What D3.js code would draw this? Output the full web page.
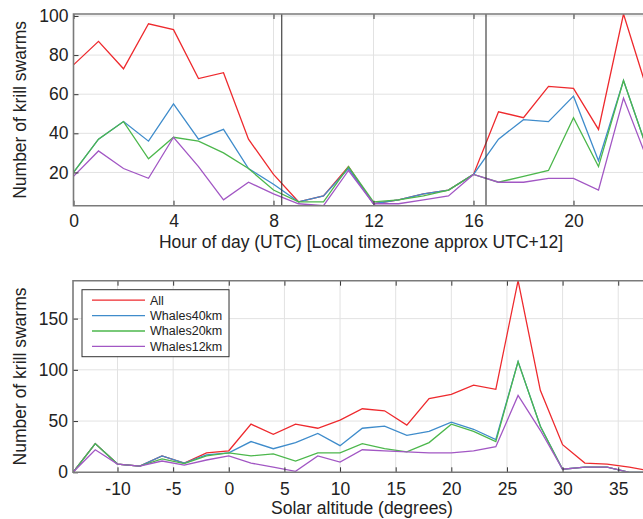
<!DOCTYPE html>
<html>
<head>
<meta charset="utf-8">
<script src="https://cdn.jsdelivr.net/npm/d3@7"></script>
<style>
    body { margin: 0; background: #fff; }
    svg { display: block; font-family: "Liberation Sans", Arial, sans-serif; }
    .grid line { stroke: #e2e2e2; stroke-width: 1; }
    .axis text { font-size: 17.5px; fill: #222; }
    .axis line { stroke: #333; }
    .axis path { display: none; }
    .frame { stroke: #7a7a7a; stroke-width: 1.6; fill: none; }
    .axis-text { font-size: 17.5px; fill: #222; }
    .legend text { font-size: 12.5px; fill: #222; }
</style>
</head>
<body>
<div id="chart-area"></div>
<script>

// Series names and colours
let seriesNames = ["All", "Whales40km", "Whales20km", "Whales12km"];
let seriesColors = ["#ee2a2e", "#3f8ccb", "#4cb74c", "#a257c4"];

// Hour of day (UTC)
let hours = [0, 1, 2, 3, 4, 5, 6, 7, 8, 9, 10, 11, 12, 13, 14, 15, 16, 17, 18, 19, 20, 21, 22, 23];
let hourAll = [75, 87, 73, 96, 93, 68, 71, 37, 19, 5, 8, 23, 4, 6, 9, 11, 19, 51, 48, 64, 63, 42, 101, 60];
let hourW40 = [20, 37, 46, 36, 55, 37, 42, 22, 14, 5, 8, 22, 4, 6, 9, 11, 19, 37, 47, 46, 59, 26, 67, 30];
let hourW20 = [20, 37, 46, 27, 38, 36, 30, 22, 11, 5, 5, 23, 5, 6, 8, 11, 19, 15, 18, 21, 48, 23, 67, 30];
let hourW12 = [18, 31, 22, 17, 38, 23, 6, 15, 9, 4, 3, 21, 4, 4, 6, 8, 19, 15, 15, 17, 17, 11, 58, 25];
let hourTicks = [0, 4, 8, 12, 16, 20];
let hourYTicks = [20, 40, 60, 80, 100];
let sunMarkers = [8.33, 16.5];

// Solar altitude (degrees)
let altitude = [-14, -12, -10, -8, -6, -4, -2, 0, 2, 4, 6, 8, 10, 12, 14, 16, 18, 20, 22, 24, 26, 28, 30, 32, 34, 36, 38];
let altAll = [0, 28, 8, 6, 16, 9, 19, 21, 47, 37, 47, 43, 51, 62, 60, 46, 72, 76, 85, 81, 187, 80, 27, 9, 8, 5, 1];
let altW40 = [0, 28, 8, 6, 16, 9, 17, 19, 30, 23, 29, 38, 26, 43, 45, 36, 40, 49, 42, 32, 108, 45, 3, 5, 5, 0, 0];
let altW20 = [0, 28, 8, 6, 13, 8.5, 16, 19, 16, 18, 11, 19, 19, 28, 23, 20, 29, 47, 40, 30, 108, 45, 3, 5, 5, 0, 0];
let altW12 = [0, 22, 8, 6, 11, 7, 12, 16, 9, 5, 1, 16, 10, 22, 21, 20, 19, 19, 21, 25, 75, 41, 3, 5, 5, 0, 0];
let altTicks = [-10, -5, 0, 5, 10, 15, 20, 25, 30, 35];
let altYTicks = [0, 50, 100, 150];


/*
 * krillChart - one panel of lines
 */

class krillChart {

    constructor(_svg, _config, _xValues, _series) {
        this.svg = _svg;
        this.config = _config;
        this.xValues = _xValues;
        this.series = _series;

        this.initVis();
    }

    initVis() {
        let vis = this;
        let c = vis.config;

        vis.width = c.width;
        vis.height = c.height;

        vis.g = vis.svg.append("g")
            .attr("transform", "translate(" + c.left + "," + c.top + ")");

        // Scales
        vis.x = d3.scaleLinear()
            .domain(c.xDomain)
            .range([0, vis.width]);

        let allValues = vis.series.flat();
        vis.y = d3.scaleLinear()
            .domain([d3.min(allValues), d3.max(allValues)])
            .range([vis.height, 0]);

        vis.g.append("clipPath")
            .attr("id", c.id + "-clip")
            .append("rect")
            .attr("width", vis.width)
            .attr("height", vis.height);

        // Grid
        vis.g.append("g")
            .attr("class", "grid")
            .selectAll("line.gx")
            .data(c.xTicks)
            .enter().append("line")
            .attr("x1", d => vis.x(d))
            .attr("x2", d => vis.x(d))
            .attr("y1", 0)
            .attr("y2", vis.height);

        vis.g.append("g")
            .attr("class", "grid")
            .selectAll("line.gy")
            .data(c.yTicks)
            .enter().append("line")
            .attr("x1", 0)
            .attr("x2", vis.width)
            .attr("y1", d => vis.y(d))
            .attr("y2", d => vis.y(d));

        // Lines
        let line = d3.line()
            .x((d, i) => vis.x(vis.xValues[i]))
            .y(d => vis.y(d));

        vis.g.append("g")
            .attr("clip-path", "url(#" + c.id + "-clip)")
            .selectAll("path")
            .data(vis.series)
            .enter().append("path")
            .attr("d", d => line(d))
            .attr("fill", "none")
            .attr("stroke", (d, i) => seriesColors[i])
            .attr("stroke-width", 1.3);

        // Vertical markers (sunrise / sunset)
        if (c.markers) {
            vis.g.selectAll(".marker")
                .data(c.markers)
                .enter().append("line")
                .attr("class", "marker")
                .attr("x1", d => vis.x(d))
                .attr("x2", d => vis.x(d))
                .attr("y1", 0)
                .attr("y2", vis.height)
                .attr("stroke", "#333")
                .attr("stroke-width", 1.1);
        }

        // Axes (ticks pointing inward)
        vis.xAxis = d3.axisBottom(vis.x).tickValues(c.xTicks).tickSizeInner(-5).tickSizeOuter(0).tickPadding(c.xPad)
            .tickFormat(d => d < 0 ? "-" + Math.abs(d) : d);
        vis.xAxisTop = d3.axisTop(vis.x).tickValues(c.xTicks).tickSizeInner(-5).tickSizeOuter(0).tickFormat("");
        vis.yAxis = d3.axisLeft(vis.y).tickValues(c.yTicks).tickSizeInner(-5).tickSizeOuter(0).tickPadding(5);

        vis.g.append("g")
            .attr("class", "x-axis axis")
            .attr("transform", "translate(0," + vis.height + ")")
            .call(vis.xAxis);
        vis.g.append("g")
            .attr("class", "x-top axis")
            .call(vis.xAxisTop);
        vis.g.append("g")
            .attr("class", "y-axis axis")
            .call(vis.yAxis);

        // Frame
        vis.g.append("path")
            .attr("class", "frame")
            .attr("d", "M" + vis.width + ",0H0V" + vis.height + "H" + vis.width);

        // Axis titles
        vis.g.append("text")
            .attr("class", "axis-text")
            .attr("x", c.xTitleX)
            .attr("y", vis.height + c.xTitleY)
            .style("text-anchor", "middle")
            .text(c.xTitle);

        vis.g.append("text")
            .attr("class", "axis-text")
            .attr("transform", "translate(" + (26 - c.left) + "," + vis.height / 2 + ") rotate(-90)")
            .style("text-anchor", "middle")
            .text("Number of krill swarms");

        // Legend
        if (c.legend) {
            let lg = vis.g.append("g")
                .attr("class", "legend")
                .attr("transform", "translate(9,9)");

            lg.append("rect")
                .attr("width", 147)
                .attr("height", 67)
                .attr("fill", "#fff")
                .attr("stroke", "#333")
                .attr("stroke-width", 1);

            let rows = lg.selectAll(".row")
                .data(seriesNames)
                .enter().append("g")
                .attr("class", "row")
                .attr("transform", (d, i) => "translate(0," + (10.5 + i * 15.4) + ")");

            rows.append("line")
                .attr("x1", 10)
                .attr("x2", 63)
                .attr("stroke", (d, i) => seriesColors[i])
                .attr("stroke-width", 1.3);

            rows.append("text")
                .attr("x", 68)
                .attr("dy", "0.35em")
                .text(d => d);
        }
    }
}

let svg = d3.select("#chart-area").append("svg")
    .attr("width", 643)
    .attr("height", 519);

new krillChart(svg, {
    id: "hour", left: 73.5, top: 14, width: 575, height: 191.7,
    xDomain: [0, 23], xTicks: hourTicks, yTicks: hourYTicks, xPad: 9,
    xTitle: "Hour of day (UTC) [Local timezone approx UTC+12]", xTitleX: 287.5, xTitleY: 42,
    markers: sunMarkers, legend: false
}, hours, [hourAll, hourW40, hourW20, hourW12]);

new krillChart(svg, {
    id: "alt", left: 73, top: 280.7, width: 578.6, height: 191.6,
    xDomain: [-14, 38], xTicks: altTicks, yTicks: altYTicks, xPad: 10,
    xTitle: "Solar altitude (degrees)", xTitleX: 289, xTitleY: 42,
    markers: null, legend: true
}, altitude, [altAll, altW40, altW20, altW12]);

</script>
</body>
</html>
